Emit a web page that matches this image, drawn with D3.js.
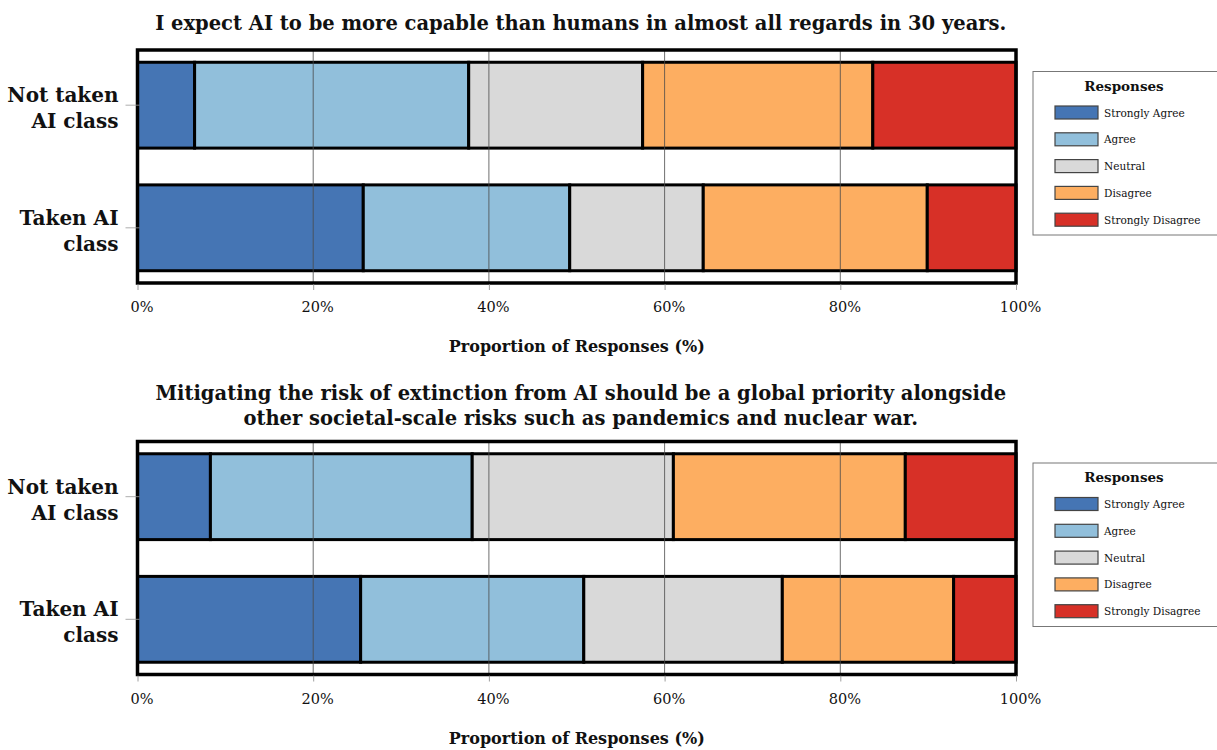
<!DOCTYPE html>
<html>
<head>
<meta charset="utf-8">
<script src="https://cdn.jsdelivr.net/npm/d3@7/dist/d3.min.js"></script>
<style>
  html, body { margin: 0; padding: 0; background: #fff; }
  svg { display: block; }
  text { font-family: "DejaVu Serif", "Liberation Serif", serif; fill: #111; }
</style>
</head>
<body>
<svg id="chart" width="1217" height="750"></svg>
<script>
// ---------- data ----------
const categories = ["Not taken AI class", "Taken AI class"];
const categoryLines = [["Not taken", "AI class"], ["Taken AI", "class"]];
const responses = ["Strongly Agree", "Agree", "Neutral", "Disagree", "Strongly Disagree"];
const palette = ["#4575b4", "#91bfdb", "#d9d9d9", "#fdae61", "#d73027"];
const xTicks = [0, 20, 40, 60, 80, 100];

const title1Lines = ["I expect AI to be more capable than humans in almost all regards in 30 years."];
const q1NotTaken = [6.5, 31.2, 19.8, 26.2, 16.3];
const q1Taken    = [25.7, 23.5, 15.2, 25.5, 10.1];

const title2Lines = ["Mitigating the risk of extinction from AI should be a global priority alongside",
                     "other societal-scale risks such as pandemics and nuclear war."];
const q2NotTaken = [8.3, 29.8, 22.9, 26.4, 12.6];
const q2Taken    = [25.4, 25.4, 22.6, 19.5, 7.1];

const xLabel = "Proportion of Responses (%)";
const legendTitle = "Responses";

// ---------- drawing ----------
const svg = d3.select("#chart");
const plotLeft = 137.5, plotRight = 1016;

function toRows(a, b) {
  return [a, b].map((vals, i) => {
    const r = { category: categories[i] };
    responses.forEach((k, j) => r[k] = vals[j]);
    return r;
  });
}

function drawPanel(frameTop, titleLines, titleBaselines, rows) {
  const frameBottom = frameTop + 233;
  const g = svg.append("g");

  const x = d3.scaleLinear().domain([0, 100]).range([plotLeft, plotRight]);
  const y = d3.scaleBand().domain(categories).range([frameTop, frameBottom])
              .paddingInner(0.3).paddingOuter(0.1);
  const color = d3.scaleOrdinal().domain(responses).range(palette);

  // title
  titleLines.forEach((t, i) => {
    g.append("text")
      .attr("x", (plotLeft + plotRight) / 2 + 4)
      .attr("y", titleBaselines[i])
      .attr("text-anchor", "middle")
      .style("font-weight", "bold")
      .style("font-size", "19.5px")
      .text(t);
  });

  // stacked bars
  const series = d3.stack().keys(responses)(rows);
  series.forEach(s => {
    g.append("g").selectAll("rect").data(s).join("rect")
      .attr("x", d => x(d[0]))
      .attr("width", d => x(d[1]) - x(d[0]))
      .attr("y", d => y(d.data.category))
      .attr("height", y.bandwidth())
      .attr("fill", color(s.key))
      .attr("stroke", "#000")
      .attr("stroke-width", 3);
  });

  // gridlines (on top of bars)
  g.append("g").selectAll("line").data(xTicks.slice(1, -1)).join("line")
    .attr("x1", d => x(d)).attr("x2", d => x(d))
    .attr("y1", frameTop).attr("y2", frameBottom)
    .attr("stroke", "#4a4a4a").attr("stroke-width", 0.8);

  // frame
  g.append("rect")
    .attr("x", plotLeft).attr("y", frameTop)
    .attr("width", plotRight - plotLeft).attr("height", frameBottom - frameTop)
    .attr("fill", "none").attr("stroke", "#000").attr("stroke-width", 3.5);

  // x axis
  const xAxis = g.append("g")
    .attr("transform", `translate(0,${frameBottom + 1})`)
    .call(d3.axisBottom(x).tickValues(xTicks).tickFormat(d => d + "%").tickSize(6).tickPadding(12));
  xAxis.select(".domain").remove();
  xAxis.selectAll(".tick line").attr("stroke", "#888").attr("stroke-width", 0.8);
  xAxis.selectAll(".tick text")
    .attr("dx", 4)
    .style("font-family", '"DejaVu Serif", serif')
    .style("font-size", "14.5px").attr("fill", "#111");

  g.append("text")
    .attr("x", (plotLeft + plotRight) / 2)
    .attr("y", frameBottom + 69)
    .attr("text-anchor", "middle")
    .style("font-weight", "bold").style("font-size", "16px")
    .text(xLabel);

  // y axis
  const yAxis = g.append("g")
    .attr("transform", `translate(${plotLeft + 2},0)`)
    .call(d3.axisLeft(y).tickSize(14).tickFormat(""));
  yAxis.select(".domain").remove();
  yAxis.selectAll(".tick line").attr("stroke", "#999").attr("stroke-width", 0.8);
  yAxis.selectAll(".tick").each(function(d, i) {
    const t = d3.select(this).append("text")
      .attr("x", -21).attr("text-anchor", "end")
      .style("font-family", '"DejaVu Serif", serif')
      .style("font-weight", "bold").style("font-size", "20px").attr("fill", "#111");
    categoryLines[i].forEach((ln, k) => {
      t.append("tspan").attr("x", -21).attr("y", k === 0 ? -3 : 23).text(ln);
    });
  });

  // legend
  const lg = g.append("g").attr("transform", `translate(1033,${frameTop + 21.5})`);
  lg.append("rect").attr("x", 0).attr("y", 0).attr("width", 200).attr("height", 163.5)
    .attr("fill", "#fff").attr("stroke", "#777").attr("stroke-width", 1);
  lg.append("text").attr("x", 91).attr("y", 19).attr("text-anchor", "middle")
    .style("font-weight", "bold").style("font-size", "13.5px").text(legendTitle);
  const items = lg.selectAll("g.item").data(responses).join("g")
    .attr("class", "item")
    .attr("transform", (d, i) => `translate(22,${34.5 + i * 26.8})`);
  items.append("rect").attr("x", 0).attr("y", 0).attr("width", 43).attr("height", 13)
    .attr("fill", d => color(d)).attr("stroke", "#444").attr("stroke-width", 1.2);
  items.append("text").attr("x", 49).attr("y", 10.5)
    .style("font-size", "10.5px").text(d => d);
}

drawPanel(50, title1Lines, [30], toRows(q1NotTaken, q1Taken));
drawPanel(441.5, title2Lines, [400, 425], toRows(q2NotTaken, q2Taken));
</script>
</body>
</html>
